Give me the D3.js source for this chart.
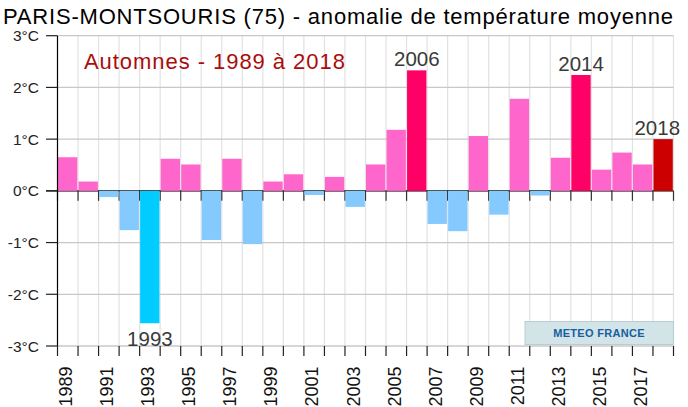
<!DOCTYPE html>
<html>
<head>
<meta charset="utf-8">
<script src="https://cdn.jsdelivr.net/npm/d3@7"></script>
<style>
  body { margin: 0; background: #fff; }
  text { font-family: "Liberation Sans", Arial, sans-serif; }
</style>
</head>
<body>
<div id="chart"></div>
<script>
//data
const years = d3.range(1989, 2019);
const anomalies = [0.65, 0.18, -0.12, -0.76, -2.56, 0.62, 0.51, -0.95, 0.62, -1.03,
  0.18, 0.32, -0.08, 0.27, -0.31, 0.51, 1.18, 2.33, -0.64, -0.78,
  1.06, -0.46, 1.78, -0.09, 0.64, 2.24, 0.41, 0.74, 0.51, 1.00];
const yTicks = [-3, -2, -1, 0, 1, 2, 3];
const highlighted = [1993, 2006, 2014, 2018];
const title = "PARIS-MONTSOURIS (75) - anomalie de température moyenne";
const subtitle = "Automnes - 1989 à 2018";

const width = 688, height = 407;
const plotLeft = 57.5, plotRight = 673.5, plotTop = 35.7, plotBottom = 346;

//colour of a bar, depends on value and highlighted years
const barColor = (year, v) => {
  if (year === 2018) return "#cc0000";
  if (year === 1993) return "#00ccff";
  if (highlighted.includes(year)) return "#ff0066";
  return v >= 0 ? "#ff66cc" : "#85caff";
};

const svg = d3.select("#chart").append("svg")
  .attr("width", width)
  .attr("height", height);

const x = d3.scaleBand().domain(years).range([plotLeft, plotRight]);
const y = d3.scaleLinear().domain([-3, 3]).range([plotBottom, plotTop]);

//vertical grid on band edges
const edges = years.map(d => x(d)).concat([plotRight]);
svg.append("g").selectAll("line").data(edges.slice(1)).join("line")
  .attr("x1", d => d).attr("x2", d => d)
  .attr("y1", plotTop).attr("y2", plotBottom)
  .attr("stroke", "#e2e2e2").attr("stroke-width", 1.2);

//horizontal grid
svg.append("g").selectAll("line").data(yTicks).join("line")
  .attr("x1", plotLeft).attr("x2", plotRight)
  .attr("y1", d => y(d)).attr("y2", d => y(d))
  .attr("stroke", "#c8c8c8").attr("stroke-width", 1.3);

//zero line with ticks
svg.append("line")
  .attr("x1", 46).attr("x2", plotRight)
  .attr("y1", y(0)).attr("y2", y(0))
  .attr("stroke", "#111").attr("stroke-width", 1.2);
svg.append("g").selectAll("line").data(edges).join("line")
  .attr("x1", d => d).attr("x2", d => d)
  .attr("y1", y(0)).attr("y2", y(0) + 10)
  .attr("stroke", "#333").attr("stroke-width", 1.2);

//bars
svg.append("g").selectAll("rect").data(anomalies).join("rect")
  .attr("x", (d, i) => x(years[i]) + 0.5)
  .attr("width", x.bandwidth() - 1.2)
  .attr("y", d => y(Math.max(0, d)))
  .attr("height", d => Math.abs(y(d) - y(0)))
  .attr("fill", (d, i) => barColor(years[i], d));

//y axis
svg.append("line")
  .attr("x1", plotLeft).attr("x2", plotLeft)
  .attr("y1", plotTop).attr("y2", plotBottom)
  .attr("stroke", "#000").attr("stroke-width", 1.2);
const yAxis = svg.append("g");
yAxis.selectAll("line").data(yTicks).join("line")
  .attr("x1", 46).attr("x2", plotLeft)
  .attr("y1", d => y(d)).attr("y2", d => y(d))
  .attr("stroke", "#222").attr("stroke-width", 1.2);
yAxis.selectAll("text").data(yTicks).join("text")
  .attr("x", 39).attr("y", d => y(d))
  .attr("dy", "0.36em")
  .attr("text-anchor", "end")
  .attr("font-size", 15.5)
  .attr("fill", "#222")
  .text(d => d + "°C");

//bottom ticks and rotated years
svg.append("g").selectAll("line").data(edges).join("line")
  .attr("x1", d => d).attr("x2", d => d)
  .attr("y1", plotBottom).attr("y2", plotBottom + 10)
  .attr("stroke", "#222").attr("stroke-width", 1.2);
svg.append("g").selectAll("text").data(years.filter((d, i) => i % 2 === 0)).join("text")
  .attr("transform", d => `translate(${x(d) + x.bandwidth() / 2},${plotBottom + 20.5}) rotate(-90)`)
  .attr("dy", "0.24em")
  .attr("text-anchor", "end")
  .attr("font-size", 18)
  .attr("fill", "#111")
  .text(d => d);

//year labels on the highlighted bars (2018 pushed left to stay inside)
svg.append("g").selectAll("text").data(highlighted).join("text")
  .attr("x", d => x(d) + x.bandwidth() / 2 - (d === 2018 ? 6 : 0))
  .attr("y", d => {
    const v = anomalies[years.indexOf(d)];
    return v >= 0 ? y(v) - 4 : y(v) + 22.5;
  })
  .attr("text-anchor", "middle")
  .attr("font-size", 20.5)
  .attr("fill", "#3a3a3a")
  .text(d => d);

//titles
svg.append("text")
  .attr("x", 3).attr("y", 24)
  .attr("font-size", 22)
  .attr("letter-spacing", 0.8)
  .attr("fill", "#000")
  .text(title);
svg.append("text")
  .attr("x", 84).attr("y", 69)
  .attr("font-size", 22)
  .attr("letter-spacing", 0.95)
  .attr("fill", "#aa0c0c")
  .text(subtitle);

//logo box
svg.append("rect")
  .attr("x", 525).attr("y", 321.5)
  .attr("width", plotRight - 525).attr("height", 23)
  .attr("fill", "#d2e4e8")
  .attr("stroke", "#b8cdd2");
svg.append("text")
  .attr("x", 599).attr("y", 337)
  .attr("text-anchor", "middle")
  .attr("font-size", 11)
  .attr("font-weight", "bold")
  .attr("letter-spacing", 0.3)
  .attr("fill", "#14609e")
  .text("METEO FRANCE");
</script>
</body>
</html>
